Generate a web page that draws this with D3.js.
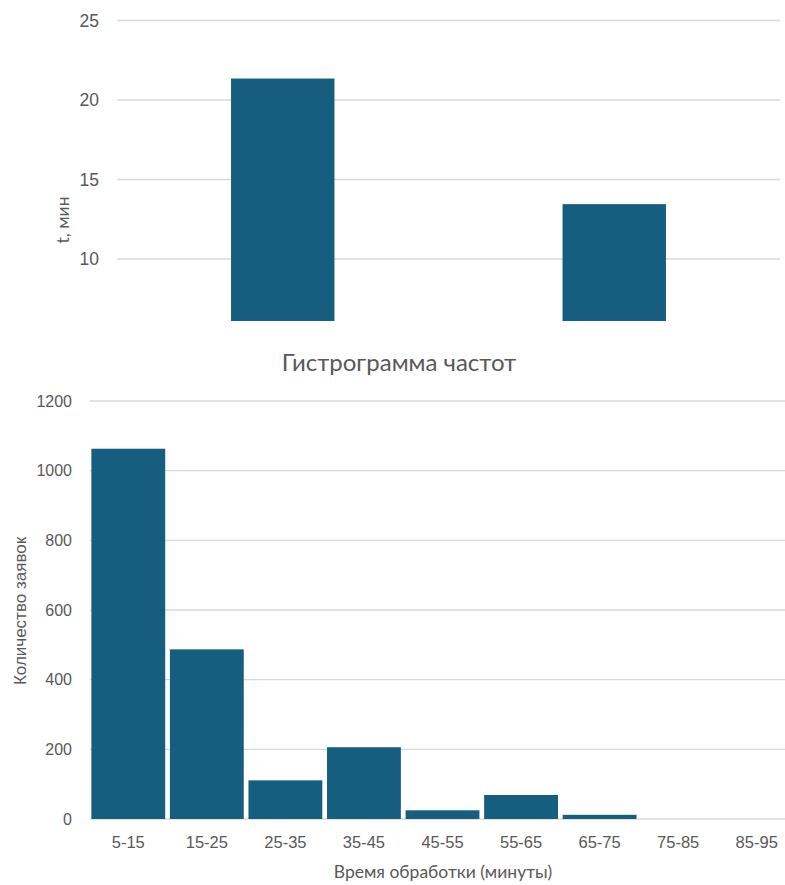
<!DOCTYPE html>
<html>
<head>
<meta charset="utf-8">
<script src="https://cdn.jsdelivr.net/npm/d3@7/dist/d3.min.js"></script>
<style>
  html, body { margin: 0; padding: 0; background: #ffffff; }
  svg { display: block; }
  text { fill: #595959; }
</style>
</head>
<body>
<svg id="chart" width="785" height="885"></svg>
<script>
// Upper chart: average processing time, two groups
const timeCategories = ["A", "B"];
const timeValues = [21.35, 13.45];
const timeTicks = [10, 15, 20, 25];

// Lower chart: frequency histogram of processing time
const binLabels = ["5-15", "15-25", "25-35", "35-45", "45-55", "55-65", "65-75", "75-85", "85-95"];
const binCounts = [1063, 487, 111, 206, 25, 69, 12, 0, 0];
const countTicks = [0, 200, 400, 600, 800, 1000, 1200];

const barColor = "#165e80";
const gridColor = "#d9d9d9";
const tickFont = "'Liberation Sans', Arial, sans-serif";
const titleFont = "Lato, 'Noto Sans', sans-serif";

const svg = d3.select("#chart");

// ---------- upper chart ----------
const upper = { left: 117, right: 780, y0: 259, y1: 100 };
const yTop = d3.scaleLinear().domain([10, 20]).range([upper.y0, upper.y1]);
const xTop = d3.scaleBand().domain(timeCategories).range([upper.left, upper.right]).paddingInner(0.688).paddingOuter(0.344);

svg.append("defs").append("clipPath").attr("id", "topClip")
  .append("rect").attr("x", 0).attr("y", 0).attr("width", 785).attr("height", 321);

const gTop = svg.append("g").attr("clip-path", "url(#topClip)");

gTop.append("g").selectAll("line").data(timeTicks).join("line")
  .attr("x1", upper.left).attr("x2", upper.right)
  .attr("y1", d => yTop(d)).attr("y2", d => yTop(d))
  .attr("stroke", gridColor).attr("stroke-width", 1.3);

gTop.append("g").selectAll("rect").data(timeValues).join("rect")
  .attr("x", (d, i) => xTop(timeCategories[i]))
  .attr("width", xTop.bandwidth())
  .attr("y", d => yTop(d))
  .attr("height", d => yTop(0) - yTop(d))
  .attr("fill", barColor);

svg.append("g").selectAll("text").data(timeTicks).join("text")
  .attr("x", 99).attr("y", d => yTop(d))
  .attr("dy", "0.35em").attr("text-anchor", "end")
  .style("font-family", tickFont).style("font-size", "17.5px")
  .text(d => d);

svg.append("text")
  .attr("transform", "translate(63,220) rotate(-90)")
  .attr("text-anchor", "middle").attr("dy", "0.35em")
  .style("font-family", titleFont).style("font-size", "17.5px")
  .text("t, мин");

// ---------- lower chart: histogram ----------
const lower = { left: 89, right: 796, y0: 819, y1: 401 };
const yHist = d3.scaleLinear().domain([0, 1200]).range([lower.y0, lower.y1]);
const xHist = d3.scaleBand().domain(binLabels).range([lower.left, lower.right]).paddingInner(0.06).paddingOuter(0.03);

svg.append("text")
  .attr("x", 399).attr("y", 363).attr("dy", "0.35em")
  .attr("text-anchor", "middle")
  .style("font-family", titleFont).style("font-size", "24px")
  .text("Гистрограмма частот");

svg.append("g").selectAll("line").data(countTicks).join("line")
  .attr("x1", 90).attr("x2", 785)
  .attr("y1", d => yHist(d)).attr("y2", d => yHist(d))
  .attr("stroke", gridColor).attr("stroke-width", 1.3);

svg.append("g").selectAll("rect").data(binCounts).join("rect")
  .attr("x", (d, i) => xHist(binLabels[i]))
  .attr("width", xHist.bandwidth())
  .attr("y", d => yHist(d))
  .attr("height", d => yHist(0) - yHist(d))
  .attr("fill", barColor);

// y tick labels
svg.append("g").selectAll("text").data(countTicks).join("text")
  .attr("x", 72).attr("y", d => yHist(d))
  .attr("dy", "0.35em").attr("text-anchor", "end")
  .style("font-family", tickFont).style("font-size", "16px")
  .text(d => d);

// x tick labels
svg.append("g").selectAll("text").data(binLabels).join("text")
  .attr("x", d => xHist(d) + xHist.bandwidth() / 2).attr("y", 842)
  .attr("dy", "0.35em").attr("text-anchor", "middle")
  .style("font-family", tickFont).style("font-size", "16.5px")
  .text(d => d);

svg.append("text")
  .attr("x", 443).attr("y", 872).attr("dy", "0.35em")
  .attr("text-anchor", "middle")
  .style("font-family", titleFont).style("font-size", "17.5px")
  .text("Время обработки (минуты)");

svg.append("text")
  .attr("transform", "translate(20,611) rotate(-90)")
  .attr("text-anchor", "middle").attr("dy", "0.35em")
  .style("font-family", tickFont).style("font-size", "17px")
  .text("Количество заявок");
</script>
</body>
</html>
